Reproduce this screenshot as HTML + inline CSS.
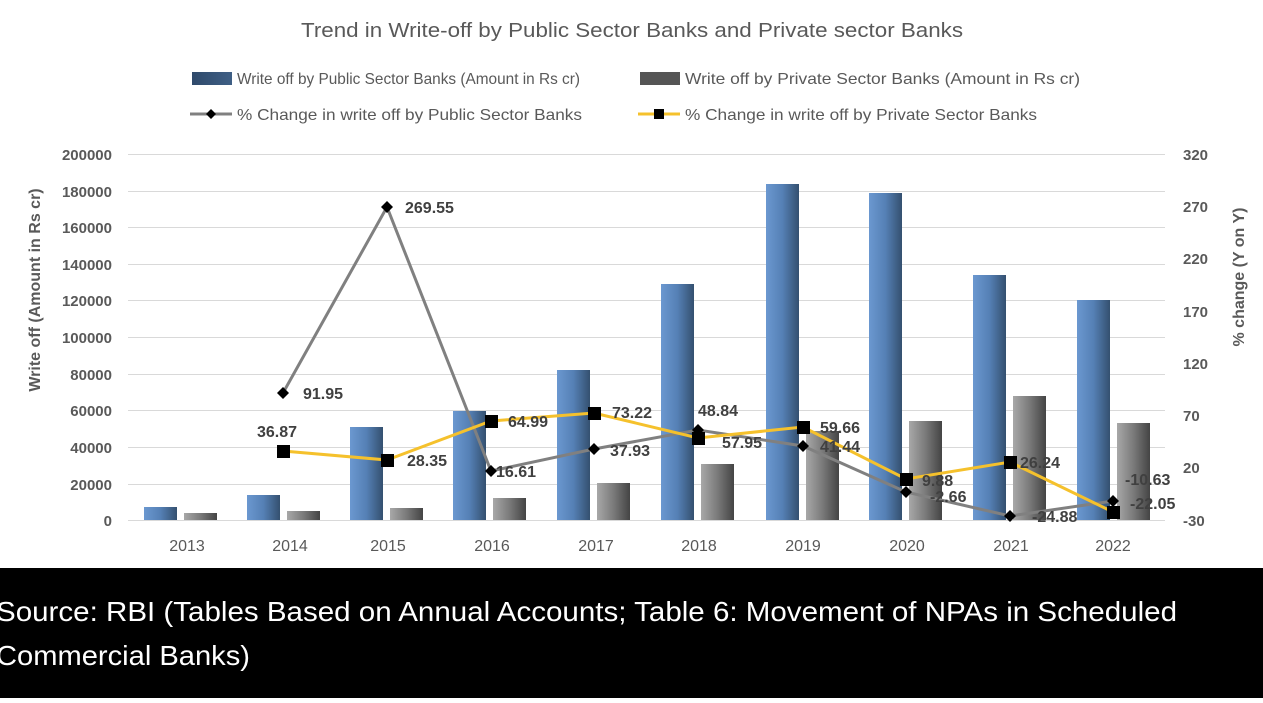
<!DOCTYPE html>
<html><head><meta charset="utf-8"><style>
body{margin:0;width:1263px;height:698px;overflow:hidden;background:#fff;font-family:"Liberation Sans",sans-serif}
</style></head><body>
<svg width="1263" height="698" xmlns="http://www.w3.org/2000/svg" font-family="Liberation Sans, sans-serif">
<defs>
<linearGradient id="gb" x1="0" x2="1" y1="0" y2="0"><stop offset="0" stop-color="#6b98d0"/><stop offset="0.5" stop-color="#5580b5"/><stop offset="1" stop-color="#34506f"/></linearGradient>
<linearGradient id="gg" x1="0" x2="1" y1="0" y2="0"><stop offset="0" stop-color="#a8a8a8"/><stop offset="0.5" stop-color="#7a7a7a"/><stop offset="1" stop-color="#444"/></linearGradient>
<linearGradient id="lb" x1="0" x2="1"><stop offset="0" stop-color="#2f4a6b"/><stop offset="1" stop-color="#3f5f85"/></linearGradient>
</defs>
<rect width="1263" height="568" fill="#fff"/>
<text x="301" y="37" font-size="20" fill="#595959" textLength="662" lengthAdjust="spacingAndGlyphs">Trend in Write-off by Public Sector Banks and Private sector Banks</text>
<rect x="192" y="72" width="40" height="13" fill="url(#lb)"/>
<text x="237" y="84" font-size="16" fill="#595959" textLength="343" lengthAdjust="spacingAndGlyphs">Write off by Public Sector Banks (Amount in Rs cr)</text>
<rect x="640" y="72" width="40" height="13" fill="#555"/>
<text x="685" y="84" font-size="16" fill="#595959" textLength="395" lengthAdjust="spacingAndGlyphs">Write off by Private Sector Banks (Amount in Rs cr)</text>
<line x1="190" y1="114" x2="232" y2="114" stroke="#808080" stroke-width="3"/>
<path d="M211 109 L216 114 L211 119 L206 114Z" fill="#000"/>
<text x="237" y="120" font-size="16" fill="#595959" textLength="345" lengthAdjust="spacingAndGlyphs">% Change in write off by Public Sector Banks</text>
<line x1="638" y1="114" x2="680" y2="114" stroke="#f5c12c" stroke-width="3"/>
<rect x="654" y="109" width="10" height="10" fill="#000"/>
<text x="685" y="120" font-size="16" fill="#595959" textLength="352" lengthAdjust="spacingAndGlyphs">% Change in write off by Private Sector Banks</text>
<g stroke="#d9d9d9" stroke-width="1">
<line x1="128" y1="154.5" x2="1165" y2="154.5"/><line x1="128" y1="191.5" x2="1165" y2="191.5"/><line x1="128" y1="227.5" x2="1165" y2="227.5"/><line x1="128" y1="264.5" x2="1165" y2="264.5"/><line x1="128" y1="300.5" x2="1165" y2="300.5"/><line x1="128" y1="337.5" x2="1165" y2="337.5"/><line x1="128" y1="374.5" x2="1165" y2="374.5"/><line x1="128" y1="410.5" x2="1165" y2="410.5"/><line x1="128" y1="447.5" x2="1165" y2="447.5"/><line x1="128" y1="484.5" x2="1165" y2="484.5"/><line x1="128" y1="520.5" x2="1165" y2="520.5"/>
</g>
<g font-size="15" font-weight="bold" fill="#595959" text-anchor="end">
<text x="112" y="160">200000</text><text x="112" y="197">180000</text><text x="112" y="233">160000</text><text x="112" y="270">140000</text><text x="112" y="306">120000</text><text x="112" y="343">100000</text><text x="112" y="380">80000</text><text x="112" y="416">60000</text><text x="112" y="453">40000</text><text x="112" y="490">20000</text><text x="112" y="526">0</text>
</g>
<g font-size="15" font-weight="bold" fill="#595959">
<text x="1183" y="160">320</text><text x="1183" y="212">270</text><text x="1183" y="264">220</text><text x="1183" y="317">170</text><text x="1183" y="369">120</text><text x="1183" y="421">70</text><text x="1183" y="473">20</text><text x="1183" y="526">-30</text>
</g>
<text transform="translate(40,290) rotate(-90)" font-size="16" font-weight="bold" fill="#595959" text-anchor="middle">Write off (Amount in Rs cr)</text>
<text transform="translate(1244,277) rotate(-90)" font-size="16" font-weight="bold" fill="#595959" text-anchor="middle">% change (Y on Y)</text>
<g>
<rect x="144" y="507" width="33" height="13" fill="url(#gb)"/><rect x="184" y="513" width="33" height="7" fill="url(#gg)"/>
<rect x="247" y="495" width="33" height="25" fill="url(#gb)"/><rect x="287" y="511" width="33" height="9" fill="url(#gg)"/>
<rect x="350" y="427" width="33" height="93" fill="url(#gb)"/><rect x="390" y="508" width="33" height="12" fill="url(#gg)"/>
<rect x="453" y="411" width="33" height="109" fill="url(#gb)"/><rect x="493" y="498" width="33" height="22" fill="url(#gg)"/>
<rect x="557" y="370" width="33" height="150" fill="url(#gb)"/><rect x="597" y="483" width="33" height="37" fill="url(#gg)"/>
<rect x="661" y="284" width="33" height="236" fill="url(#gb)"/><rect x="701" y="464" width="33" height="56" fill="url(#gg)"/>
<rect x="766" y="184" width="33" height="336" fill="url(#gb)"/><rect x="806" y="431" width="33" height="89" fill="url(#gg)"/>
<rect x="869" y="193" width="33" height="327" fill="url(#gb)"/><rect x="909" y="421" width="33" height="99" fill="url(#gg)"/>
<rect x="973" y="275" width="33" height="245" fill="url(#gb)"/><rect x="1013" y="396" width="33" height="124" fill="url(#gg)"/>
<rect x="1077" y="300" width="33" height="220" fill="url(#gb)"/><rect x="1117" y="423" width="33" height="97" fill="url(#gg)"/>
</g>
<polyline points="283,393 387,207 491,471 594,449 698,430 803,446 906,492 1010,516 1113,501" fill="none" stroke="#808080" stroke-width="3"/>
<g fill="#000">
<path d="M283 387l6 6-6 6-6-6z"/><path d="M387 201l6 6-6 6-6-6z"/><path d="M491 465l6 6-6 6-6-6z"/><path d="M594 443l6 6-6 6-6-6z"/><path d="M698 424l6 6-6 6-6-6z"/><path d="M803 440l6 6-6 6-6-6z"/><path d="M906 486l6 6-6 6-6-6z"/><path d="M1010 510l6 6-6 6-6-6z"/><path d="M1113 495l6 6-6 6-6-6z"/>
</g>
<polyline points="283,451 387,460 491,421 594,413 698,438 803,427 906,479 1010,462 1113,512" fill="none" stroke="#f5c12c" stroke-width="3"/>
<g fill="#000">
<rect x="277" y="445" width="13" height="13"/><rect x="381" y="454" width="13" height="13"/><rect x="485" y="415" width="13" height="13"/><rect x="588" y="407" width="13" height="13"/><rect x="692" y="432" width="13" height="13"/><rect x="797" y="421" width="13" height="13"/><rect x="900" y="473" width="13" height="13"/><rect x="1004" y="456" width="13" height="13"/><rect x="1107" y="506" width="13" height="13"/>
</g>
<g font-size="16" font-weight="bold" fill="#404040">
<text x="303" y="399">91.95</text><text x="405" y="213">269.55</text><text x="257" y="437">36.87</text><text x="407" y="466">28.35</text>
<text x="496" y="477">16.61</text><text x="508" y="427">64.99</text><text x="610" y="456">37.93</text><text x="612" y="418">73.22</text>
<text x="698" y="416">48.84</text><text x="722" y="448">57.95</text><text x="820" y="433">59.66</text><text x="820" y="452">41.44</text>
<text x="922" y="486">9.88</text><text x="930" y="502">-2.66</text><text x="1020" y="468">26.24</text><text x="1032" y="522">-24.88</text>
<text x="1125" y="485">-10.63</text><text x="1130" y="509">-22.05</text>
</g>
<g font-size="16" fill="#595959" text-anchor="middle">
<text x="187" y="551">2013</text><text x="290" y="551">2014</text><text x="388" y="551">2015</text><text x="492" y="551">2016</text><text x="596" y="551">2017</text><text x="699" y="551">2018</text><text x="803" y="551">2019</text><text x="907" y="551">2020</text><text x="1011" y="551">2021</text><text x="1113" y="551">2022</text>
</g>
<rect x="0" y="568" width="1263" height="130" fill="#000"/>
<text x="-4" y="621" font-size="28" fill="#fff" textLength="1181" lengthAdjust="spacingAndGlyphs">Source: RBI (Tables Based on Annual Accounts; Table 6: Movement of NPAs in Scheduled</text>
<text x="-4" y="665" font-size="28" fill="#fff" textLength="254" lengthAdjust="spacingAndGlyphs">Commercial Banks)</text>
</svg>
</body></html>
